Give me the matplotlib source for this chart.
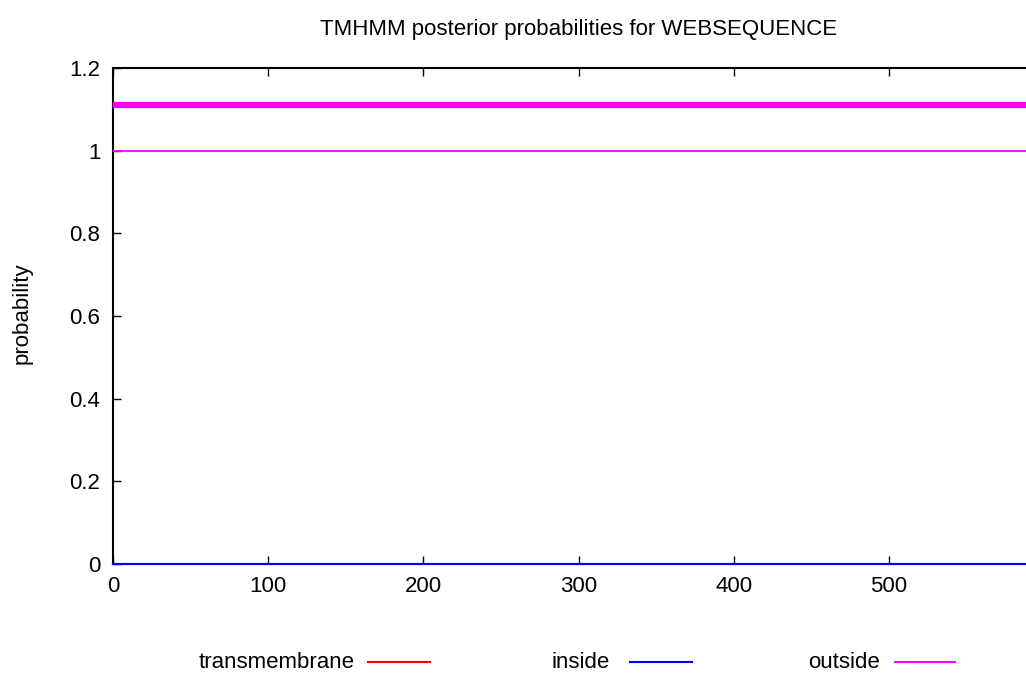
import matplotlib
matplotlib.use("Agg")
import matplotlib.pyplot as plt
from matplotlib.lines import Line2D
import numpy as np

plt.rcParams['font.family'] = ['Liberation Sans Narrow', 'Liberation Sans', 'DejaVu Sans']

title = "TMHMM posterior probabilities for WEBSEQUENCE"
seq_len = 600
positions = [0, 600]
transmembrane = [0.0, 0.0]
inside = [0.0, 0.0]
outside = [1.0, 1.0]
topology_outside_level = [1.11, 1.11]
xticks = [0, 100, 200, 300, 400, 500]
yticks = [0, 0.2, 0.4, 0.6, 0.8, 1.0, 1.2]
ytick_labels = ["0", "0.2", "0.4", "0.6", "0.8", "1", "1.2"]
legend_labels = ["transmembrane", "inside", "outside"]
colors = {"transmembrane": "#ff0000", "inside": "#0000ff", "outside": "#ff00ff"}

W, H = 1026, 680
fig = plt.figure(figsize=(W / 100, H / 100), dpi=100)
ax = fig.add_axes([113 / W, (H - 564) / H, (1044 - 113) / W, (564 - 68) / H])

ax.plot(positions, topology_outside_level, color=colors["outside"], lw=4.5, solid_capstyle='butt', zorder=3)
ax.plot(positions, outside, color=colors["outside"], lw=1.3, zorder=3)
ax.plot(positions, transmembrane, color=colors["transmembrane"], lw=1.3, zorder=3, clip_on=False)
ax.plot(positions, inside, color=colors["inside"], lw=1.5, zorder=4, clip_on=False)

ax.set_xlim(0, seq_len)
ax.set_ylim(0, 1.2)
ax.set_xticks(xticks)
ax.set_yticks(yticks)
ax.set_yticklabels(ytick_labels)
ax.tick_params(direction='in', length=6, width=1, top=True, right=True,
               labelsize=16, pad=9, colors='black')
for s in ax.spines.values():
    s.set_linewidth(1.5)
    s.set_color('black')

ax.set_title(title, fontsize=16, pad=24)
ax.set_ylabel("probability", fontsize=16)
ax.yaxis.label.set_va('center')
ax.yaxis.set_label_coords(-91 / (1044 - 113), (564 - 313) / (564 - 68))

# legend: text followed by a line sample
leg_items = [(legend_labels[0], 355, 368, 430),
             (legend_labels[1], 610, 630, 692),
             (legend_labels[2], 880, 895, 955)]
yleg = (H - 662) / H
for label, text_right, l0, l1 in leg_items:
    fig.text(text_right / W, yleg, label, ha='right', va='center', fontsize=16)
    fig.add_artist(Line2D([l0 / W, l1 / W], [yleg, yleg], transform=fig.transFigure,
                          color=colors[label], lw=1.5))

fig.savefig("out.png", dpi=100)
